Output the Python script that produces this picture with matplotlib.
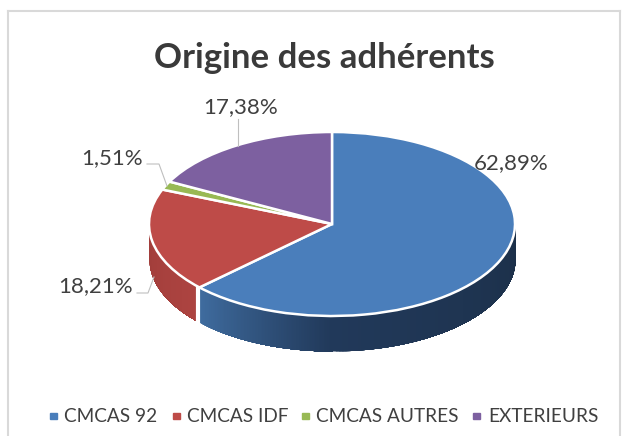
import matplotlib
matplotlib.use('Agg')
import matplotlib.pyplot as plt
import numpy as np
from matplotlib.colors import to_rgb

plt.rcParams['font.family'] = ['Lato', 'DejaVu Sans']

W, H = 625, 436

categories = ['CMCAS 92', 'CMCAS IDF', 'CMCAS AUTRES', 'EXTERIEURS']
values = [62.89, 18.21, 1.51, 17.38]
value_labels = ['62,89%', '18,21%', '1,51%', '17,38%']
colors = ['#4a7ebb', '#be4b48', '#98b954', '#7d60a0']

# pie geometry in pixels
CX, CY = 332, 224
RX, RY = 183, 92
DEPTH = 35 / RY


def px(x, y):
    return x / W, 1 - y / H


def side_strip(ax, a0, a1, c_left, c_right):
    """Draws the visible side of a slice as thin shaded strips."""
    angles = np.linspace(a0, a1, 90)
    c_left, c_right = np.array(to_rgb(c_left)), np.array(to_rgb(c_right))
    for i in range(len(angles) - 1):
        t = i / (len(angles) - 2)
        # every strip runs to the far end of the slice, the next one paints over it
        rest = np.radians(np.linspace(angles[i], a1, 60))
        ax.fill_between(np.cos(rest), np.sin(rest) - DEPTH, np.sin(rest),
                        color=c_left + (c_right - c_left) * t, lw=0, zorder=1)


fig = plt.figure(figsize=(W / 100, H / 100), dpi=100)
ax = fig.add_axes([0, 0, 1, 1])

wedges, _ = ax.pie(values, colors=colors, startangle=90, counterclock=False, radius=1,
                   wedgeprops={'edgecolor': 'white', 'linewidth': 1.8, 'zorder': 3})
ax.set_aspect('auto')
ax.set_xlim(-CX / RX, (W - CX) / RX)
ax.set_ylim(-(H - CY) / RY, CY / RY)
ax.axis('off')

# 3D side, the angles follow from the slice values
blue_end = 90 - 360 * values[0] / 100
side_strip(ax, blue_end, -90, '#3f6c9f', '#21395a')
side_strip(ax, -90, 0, '#21395a', '#1c3049')
side_strip(ax, -180, blue_end, '#a13d3a', '#ad4441')
bx = np.cos(np.radians(blue_end))
by = np.sin(np.radians(blue_end))
ax.plot([bx - 0.008, bx - 0.008], [by - DEPTH, by], color='white', lw=3, zorder=2)

# chart frame
fig.add_artist(plt.Line2D([8 / W, 8 / W], [0, 1 - 11.5 / H], color='#d9d9d9', lw=1.5))
fig.add_artist(plt.Line2D([8 / W, 620 / W], [1 - 11.5 / H, 1 - 11.5 / H], color='#d9d9d9', lw=1.5))
fig.add_artist(plt.Line2D([620 / W, 620 / W], [0, 1 - 11.5 / H], color='#d9d9d9', lw=1.5))

fig.text(*px(324, 58), 'Origine des adhérents', fontsize=25, fontweight='bold',
         color='#3a3a3a', ha='center', va='center')

# value labels and leader lines
label_pos = [(511, 163), (96, 286), (112, 158), (241, 107)]
for (x, y), txt in zip(label_pos, value_labels):
    fig.text(*px(x, y), txt, fontsize=16, color='#404040', ha='center', va='center')

leaders = [
    ([238, 238], [119, 146]),
    ([147, 159, 167], [164, 164, 186]),
    ([137, 148, 154], [293, 293, 277]),
]
for xs, ys in leaders:
    fig.add_artist(plt.Line2D([x / W for x in xs], [1 - y / H for y in ys],
                              color='#bfbfbf', lw=0.8))

# legend
legend_marks = [50, 173, 302, 473]
legend_text = [64, 187, 316, 488]
for c, name, mx, tx in zip(colors, categories, legend_marks, legend_text):
    fig.add_artist(plt.Rectangle((mx / W, 1 - 419 / H), 6.5 / W, 6.5 / H, color=c,
                                 transform=fig.transFigure))
    fig.text(*px(tx, 416), name, fontsize=13.7, color='#404040', ha='left', va='center')

fig.savefig('out.png', dpi=100)
